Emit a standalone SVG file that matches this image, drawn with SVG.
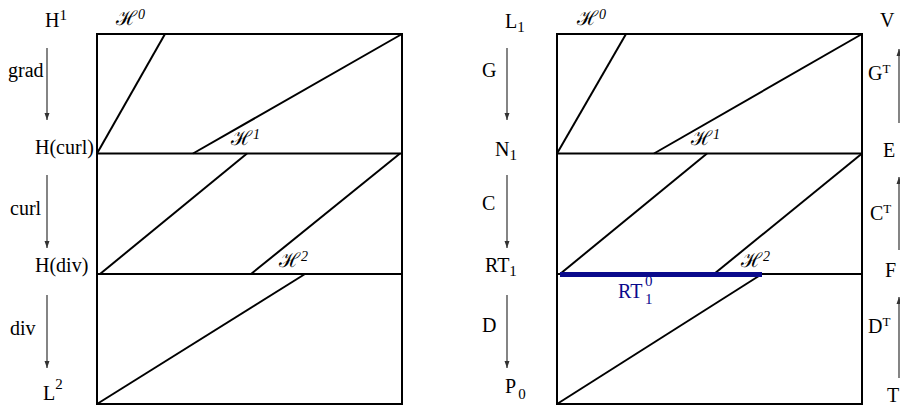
<svg xmlns="http://www.w3.org/2000/svg" width="900" height="406" viewBox="0 0 900 406">
<defs>
<style>
.box{fill:none;stroke:#000;stroke-width:2}
.ln{stroke:#000;stroke-width:2;fill:none}
.arr{stroke:#333;stroke-width:1.2;fill:none}
.t{font-family:"Liberation Serif","Times New Roman",serif;font-size:20px;fill:#000}
.s{font-family:"Liberation Serif","Times New Roman",serif;font-size:15px;fill:#000}
.st{font-family:"Liberation Serif","Times New Roman",serif;font-size:13px;fill:#000}
.h{font-family:"DejaVu Serif","Liberation Serif",serif;font-size:20px;fill:#000}
.hs{font-family:"Liberation Serif",serif;font-style:italic;font-size:14px;fill:#000}
.blue{fill:#0a0a8c}
</style>
<marker id="ah" markerWidth="8" markerHeight="8" refX="7" refY="4" orient="auto" markerUnits="userSpaceOnUse">
<path d="M0,1.5 L7,4 L0,6.5 Z" fill="#333"/>
</marker>
</defs>

<g id="left-diagram">
<rect class="box" x="97" y="34" width="305" height="370"/>
<line class="ln" x1="97" y1="153.5" x2="402" y2="153.5"/>
<line class="ln" x1="97" y1="274" x2="402" y2="274"/>
<line class="ln" x1="97" y1="153.5" x2="165" y2="34"/>
<line class="ln" x1="193" y1="153.5" x2="402" y2="34"/>
<line class="ln" x1="100" y1="274" x2="247" y2="153.5"/>
<line class="ln" x1="251" y1="274" x2="400" y2="153.5"/>
<line class="ln" x1="97" y1="404" x2="305" y2="274"/>
</g>

<g id="right-diagram">
<rect class="box" x="557" y="34" width="305" height="370"/>
<line class="ln" x1="557" y1="153.5" x2="862" y2="153.5"/>
<line class="ln" x1="557" y1="274" x2="862" y2="274"/>
<line class="ln" x1="557" y1="153.5" x2="626" y2="34"/>
<line class="ln" x1="654" y1="153.5" x2="862" y2="34"/>
<line class="ln" x1="560" y1="274" x2="707" y2="153.5"/>
<line class="ln" x1="714" y1="274" x2="862" y2="153.5"/>
<line class="ln" x1="557" y1="404" x2="762" y2="274"/>
<line x1="560" y1="274.5" x2="762" y2="274.5" stroke="#0a0a8c" stroke-width="5"/>
</g>

<g id="connectors">
<line class="arr" x1="47" y1="48" x2="47" y2="120" marker-end="url(#ah)"/>
<line class="arr" x1="47" y1="175" x2="47" y2="248" marker-end="url(#ah)"/>
<line class="arr" x1="47" y1="295" x2="47" y2="368" marker-end="url(#ah)"/>
<line class="arr" x1="507" y1="48" x2="507" y2="120" marker-end="url(#ah)"/>
<line class="arr" x1="507" y1="175" x2="507" y2="248" marker-end="url(#ah)"/>
<line class="arr" x1="507" y1="295" x2="507" y2="368" marker-end="url(#ah)"/>
<line class="arr" x1="899" y1="123" x2="899" y2="49" marker-end="url(#ah)"/>
<line class="arr" x1="899" y1="250" x2="899" y2="177" marker-end="url(#ah)"/>
<line class="arr" x1="899" y1="378" x2="899" y2="297" marker-end="url(#ah)"/>
</g>

<g id="label-H1"><text class="t" x="45" y="27">H<tspan class="s" dy="-7">1</tspan></text></g>
<g id="label-grad"><text class="t" x="8" y="77">grad</text></g>
<g id="label-Hcurl"><text class="t" x="35" y="154">H(curl)</text></g>
<g id="label-curl"><text class="t" x="10" y="215">curl</text></g>
<g id="label-Hdiv"><text class="t" x="35" y="272">H(div)</text></g>
<g id="label-div"><text class="t" x="10" y="335">div</text></g>
<g id="label-L2"><text class="t" x="43" y="400">L<tspan class="s" dy="-11">2</tspan></text></g>

<g id="label-left-H0"><text class="h" x="116" y="25">ℋ<tspan class="hs" dx="1" dy="-6">0</tspan></text></g>
<g id="label-left-H1"><text class="h" x="231" y="145">ℋ<tspan class="hs" dx="1" dy="-6">1</tspan></text></g>
<g id="label-left-H2"><text class="h" x="279" y="267">ℋ<tspan class="hs" dx="1" dy="-6">2</tspan></text></g>

<g id="label-L1"><text class="t" x="505" y="28">L<tspan class="s" dy="4">1</tspan></text></g>
<g id="label-G"><text class="t" x="482" y="77">G</text></g>
<g id="label-N1"><text class="t" x="495" y="156">N<tspan class="s" dy="4">1</tspan></text></g>
<g id="label-C"><text class="t" x="482" y="210">C</text></g>
<g id="label-RT1"><text class="t" x="485" y="272">RT<tspan class="s" dy="4">1</tspan></text></g>
<g id="label-D"><text class="t" x="482" y="332">D</text></g>
<g id="label-P0"><text class="t" x="505" y="393">P<tspan class="s" dx="2" dy="6">0</tspan></text></g>

<g id="label-right-H0"><text class="h" x="577" y="25">ℋ<tspan class="hs" dx="1" dy="-6">0</tspan></text></g>
<g id="label-right-H1"><text class="h" x="691" y="145">ℋ<tspan class="hs" dx="1" dy="-6">1</tspan></text></g>
<g id="label-right-H2"><text class="h" x="741" y="267">ℋ<tspan class="hs" dx="1" dy="-6">2</tspan></text></g>
<g id="label-RT10"><text class="t blue" x="618" y="298">RT</text><text class="s blue" x="645" y="286">0</text><text class="s blue" x="645" y="304">1</text></g>

<g id="label-V"><text class="t" x="880" y="27">V</text></g>
<g id="label-GT"><text class="t" x="868" y="80">G<tspan class="st" dy="-7">T</tspan></text></g>
<g id="label-E"><text class="t" x="883" y="157">E</text></g>
<g id="label-CT"><text class="t" x="870" y="220">C<tspan class="st" dy="-7">T</tspan></text></g>
<g id="label-F"><text class="t" x="885" y="277">F</text></g>
<g id="label-DT"><text class="t" x="868" y="333">D<tspan class="st" dy="-7">T</tspan></text></g>
<g id="label-T"><text class="t" x="887" y="402">T</text></g>
</svg>
